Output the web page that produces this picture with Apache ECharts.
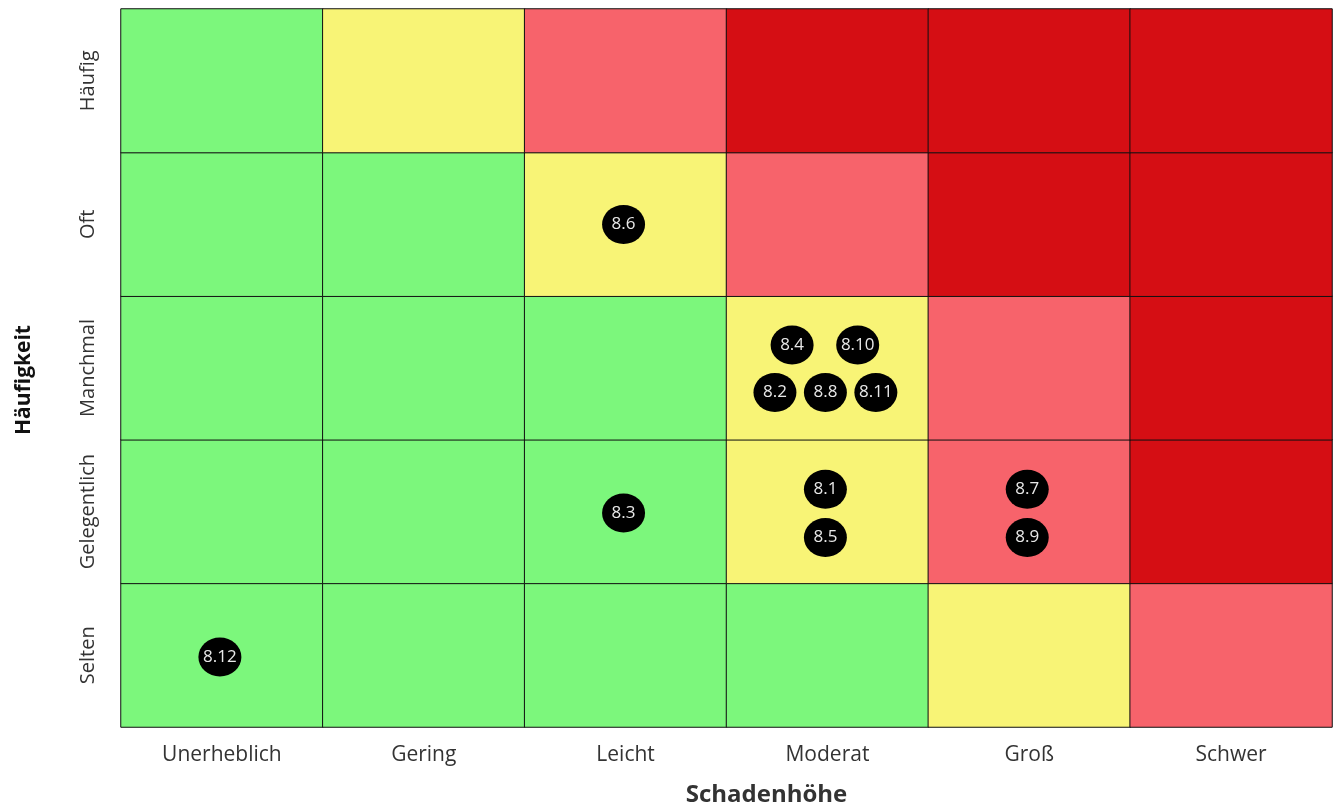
<!DOCTYPE html>
<html>
<head>
<meta charset="utf-8">
<script src="https://cdn.jsdelivr.net/npm/echarts@6/dist/echarts.min.js"></script>
<style>html,body{margin:0;padding:0;background:#fff}#c{width:1335px;height:812px}</style>
</head>
<body>
<div id="c"></div>
<script>
const xCategories = ['Unerheblich', 'Gering', 'Leicht', 'Moderat', 'Groß', 'Schwer'];
const yCategories = ['Selten', 'Gelegentlich', 'Manchmal', 'Oft', 'Häufig'];
// risk level per row (bottom to top), per column: 0 green, 1 yellow, 2 light red, 3 dark red
const riskLevels = [
  [0, 0, 0, 0, 1, 2],
  [0, 0, 0, 1, 2, 3],
  [0, 0, 0, 1, 2, 3],
  [0, 0, 1, 2, 3, 3],
  [0, 1, 2, 3, 3, 3]
];
const riskColors = ['#7cf77c', '#f8f476', '#f7636b', '#d50e14'];
// markers on 0..6 / 0..5 scales
const markerLabels = ['8.6', '8.4', '8.10', '8.2', '8.8', '8.11', '8.1', '8.5', '8.3', '8.7', '8.9', '8.12'];
const markerX = [2.49, 3.325, 3.65, 3.24, 3.49, 3.74, 3.49, 3.49, 2.49, 4.49, 4.49, 0.49];
const markerY = [3.50, 2.66, 2.66, 2.33, 2.33, 2.33, 1.655, 1.32, 1.49, 1.655, 1.32, 0.487];

const heatData = [];
riskLevels.forEach((row, yi) => row.forEach((v, xi) => heatData.push([xi, yi, v])));
const scatterData = markerLabels.map((l, i) => ({ value: [markerX[i], markerY[i]], name: l }));

const chart = echarts.init(document.getElementById('c'));
chart.setOption({
  animation: false,
  grid: { left: 121, right: 3, top: 9, bottom: 84 },
  xAxis: [
    {
      type: 'category', data: xCategories, position: 'bottom',
      name: 'Schadenhöhe', nameLocation: 'middle', nameGap: 56,
      nameTextStyle: { fontFamily: 'Open Sans', fontWeight: 'bold', fontSize: 24, color: '#333', padding: [0, 0, 0, 80] },
      axisLine: { show: false }, axisTick: { show: false }, splitLine: { show: false },
      axisLabel: { fontFamily: 'Open Sans', fontSize: 21, color: '#333', margin: 18, interval: 0 }
    },
    { type: 'value', min: 0, max: 6, show: false }
  ],
  yAxis: [
    {
      type: 'category', data: yCategories,
      name: 'Häufigkeit', nameLocation: 'middle', nameGap: 86,
      nameTextStyle: { fontFamily: 'Open Sans', fontWeight: 'bold', fontSize: 21, color: '#111', padding: [0, 24, 0, 0] },
      axisLine: { show: false }, axisTick: { show: false }, splitLine: { show: false },
      axisLabel: { fontFamily: 'Open Sans', fontSize: 20, color: '#333', rotate: 90, margin: 23, interval: 0 }
    },
    { type: 'value', min: 0, max: 5, show: false }
  ],
  visualMap: {
    show: false, type: 'piecewise', seriesIndex: 0, dimension: 2,
    pieces: riskColors.map((c, i) => ({ value: i, color: c }))
  },
  series: [
    {
      type: 'heatmap', xAxisIndex: 0, yAxisIndex: 0, data: heatData,
      itemStyle: { borderColor: '#111', borderWidth: 1 },
      emphasis: { disabled: true }
    },
    {
      type: 'scatter', xAxisIndex: 1, yAxisIndex: 1, data: scatterData,
      symbol: 'circle', symbolSize: [43, 39],
      itemStyle: { color: '#000', opacity: 1 },
      label: {
        show: true, position: 'inside', formatter: p => p.name,
        color: '#e8e8e8', fontFamily: 'Open Sans', fontSize: 17
      }
    }
  ]
});
</script>
</body>
</html>
